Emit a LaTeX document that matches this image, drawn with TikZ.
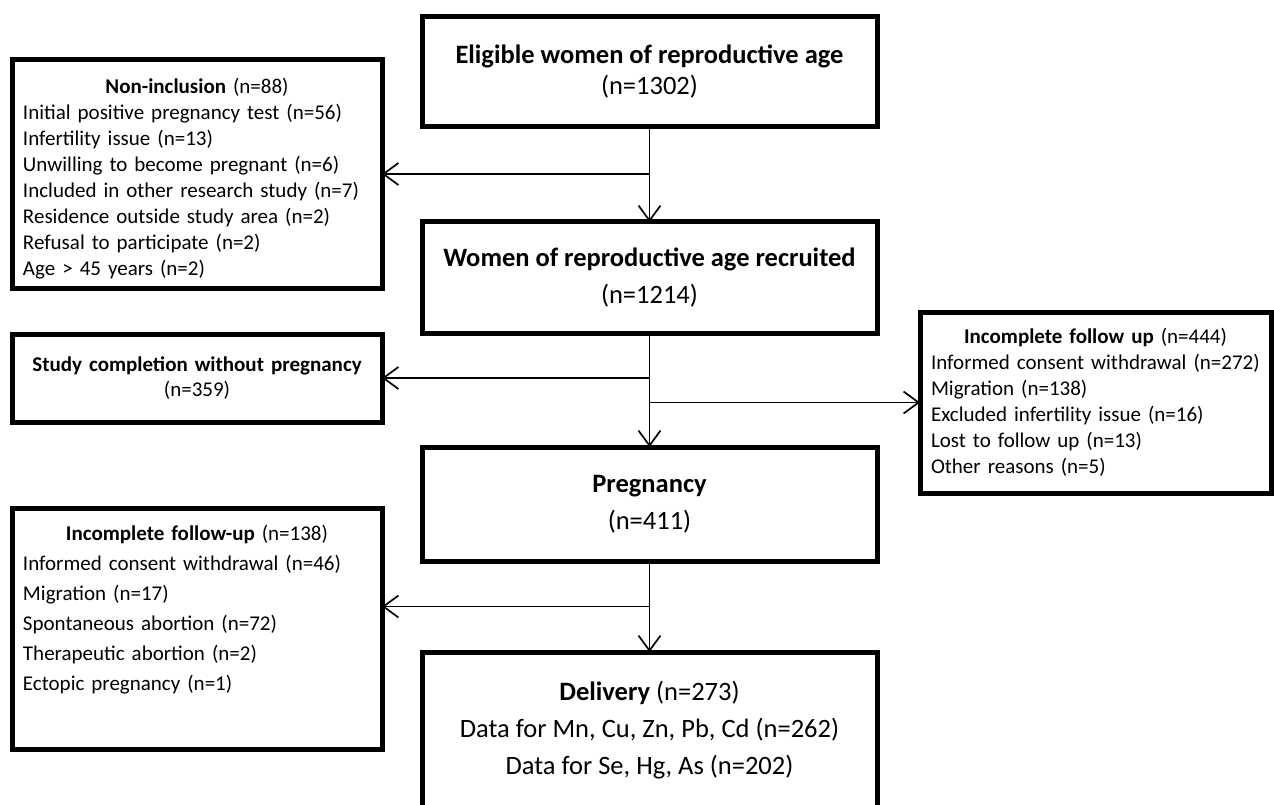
\documentclass[tikz,border=0pt]{standalone}
\usepackage{fontspec}
\setmainfont{Carlito}
\usetikzlibrary{arrows.meta,positioning,calc}

\newcommand\flowbig{\fontsize{26.5}{37}\selectfont}
\newcommand\flowsmall{\fontsize{21}{26}\selectfont}
\newcommand\boxtitle[1]{\makebox[\linewidth]{#1}}

\begin{document}
\begin{tikzpicture}[
    x=1pt, y=-1pt,
    mainbox/.style={rectangle, draw, line width=5pt, outer sep=0pt, minimum width=455pt,
                    align=center, font=\flowbig},
    sidebox/.style={rectangle, draw, line width=5pt, outer sep=0pt, text width=348pt,
                    inner xsep=11pt, align=left, font=\flowsmall},
    arrow/.style={-{Straight Barb[length=15pt,width=22pt]}, line width=1.7pt}
  ]
  \useasboundingbox (0,0) rectangle (1274,805);

  % Main column
  \node[mainbox, minimum height=110pt] (elig) at (649.5,72)
    {\textbf{Eligible women of reproductive age}\\[-6pt](n=1302)};
  \node[mainbox, minimum height=111pt, below=95pt of elig] (recr)
    {\textbf{Women of reproductive age recruited}\\(n=1214)};
  \node[mainbox, minimum height=114pt, below=114pt of recr] (preg)
    {\textbf{Pregnancy}\\(n=411)};
  \node[mainbox, minimum height=156pt, below=91pt of preg] (deliv)
    {\textbf{Delivery} (n=273)\\Data for Mn, Cu, Zn, Pb, Cd (n=262)\\Data for Se, Hg, As (n=202)};

  % Exclusions
  \node[sidebox, minimum height=228pt] (noninc) at (197,174)
    {\boxtitle{\rule{0pt}{25pt}\textbf{Non-inclusion} (n=88)}\\
     Initial positive pregnancy test (n=56)\\
     Infertility issue (n=13)\\
     Unwilling to become pregnant (n=6)\\
     Included in other research study (n=7)\\
     Residence outside study area (n=2)\\
     Refusal to participate (n=2)\\
     Age > 45 years (n=2)};
  \node[sidebox, align=center, minimum height=88pt, font=\fontsize{21}{25}\selectfont] (study) at (197,378)
    {\textbf{Study completion without pregnancy}\\(n=359)};
  \node[sidebox, text width=333pt, inner xsep=9pt, minimum height=181pt] (fu) at (1095.5,402.5)
    {\boxtitle{\textbf{Incomplete follow up} (n=444)}\\
     \hspace*{2pt}Informed consent withdrawal (n=272)\\
     \hspace*{2pt}Migration (n=138)\\
     \hspace*{2pt}Excluded infertility issue (n=16)\\
     \hspace*{2pt}Lost to follow up (n=13)\\
     \hspace*{2pt}Other reasons (n=5)};
  \node[sidebox, minimum height=241pt, font=\fontsize{21}{30}\selectfont] (incl) at (197,628.5)
    {\boxtitle{\textbf{Incomplete follow-up} (n=138)}\\
     Informed consent withdrawal (n=46)\\
     Migration (n=17)\\
     Spontaneous abortion (n=72)\\
     Therapeutic abortion (n=2)\\
     Ectopic pregnancy (n=1)\rule[-42pt]{0pt}{42pt}};

  % Flow
  \draw[arrow] (elig) -- (recr);
  \draw[arrow] (elig.south |- noninc.east) -- (noninc.east);
  \draw[arrow] (recr) -- (preg);
  \draw[arrow] (recr.south |- study.east) -- (study.east);
  \draw[arrow] (recr.south |- fu.west) -- (fu.west);
  \coordinate (split) at ($(preg.south)!0.5!(deliv.north)$);
  \draw[arrow] (preg) -- (deliv);
  \draw[arrow] (split) -- (split -| incl.east);
\end{tikzpicture}
\end{document}
